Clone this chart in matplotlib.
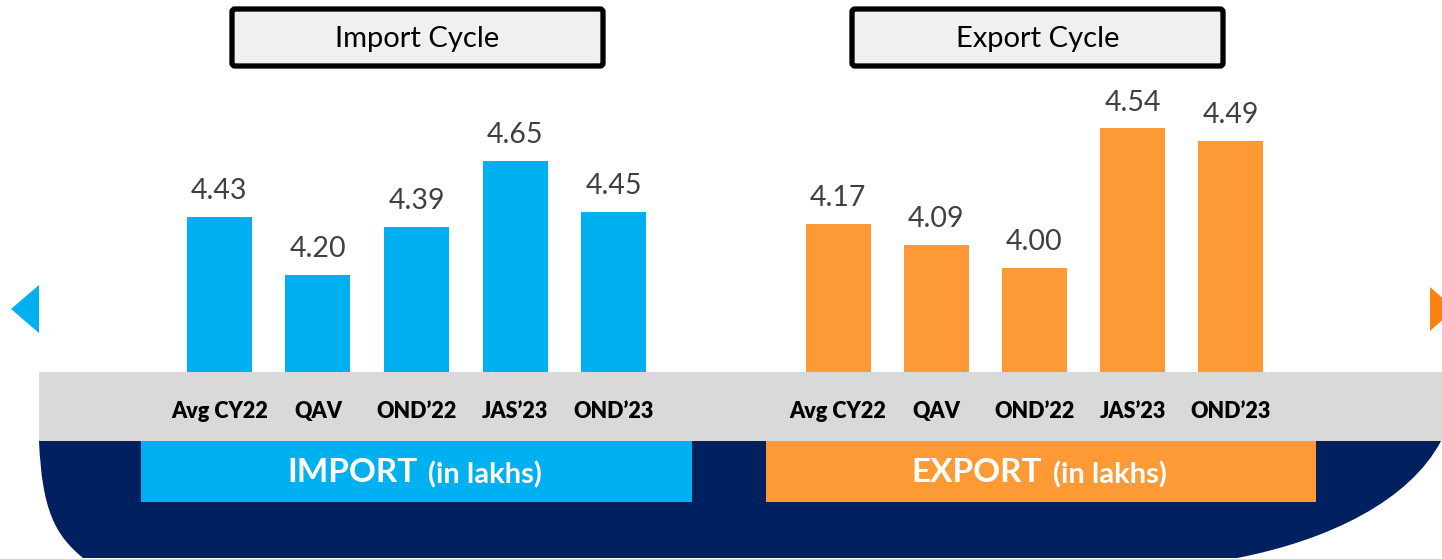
import matplotlib.pyplot as plt
from matplotlib.patches import Rectangle, FancyBboxPatch, PathPatch, Polygon
from matplotlib.path import Path

plt.rcParams['font.family'] = ['Lato', 'DejaVu Sans']

categories = ['Avg CY22', 'QAV', 'OND\u201922', 'JAS\u201923', 'OND\u201923']
import_vals = [4.43, 4.20, 4.39, 4.65, 4.45]
export_vals = [4.17, 4.09, 4.00, 4.54, 4.49]

W, H = 1442, 559
CYAN = '#00b0f0'
ORANGE = '#fd9a35'
NAVY = '#002060'
GREY = '#d9d9d9'

fig = plt.figure(figsize=(W / 100, H / 100), dpi=100)

# background layer in pixel coordinates
bg = fig.add_axes([0, 0, 1, 1])
bg.set_xlim(0, W)
bg.set_ylim(H, 0)
bg.axis('off')

# navy hull shape under the grey band
verts = [(39, 441), (1441, 441),
         (1410, 500), (1330, 540), (1237, 558),
         (83, 558),
         (55, 535), (42, 510), (39, 441),
         (39, 441)]
codes = [Path.MOVETO, Path.LINETO,
         Path.CURVE4, Path.CURVE4, Path.CURVE4,
         Path.LINETO,
         Path.CURVE4, Path.CURVE4, Path.CURVE4,
         Path.CLOSEPOLY]
bg.add_patch(PathPatch(Path(verts, codes), facecolor=NAVY, edgecolor='none'))
bg.add_patch(Rectangle((39, 372), W - 39, 69, facecolor=GREY, edgecolor='none'))

# series banners
bg.add_patch(Rectangle((141, 441), 551, 61, facecolor=CYAN, edgecolor='none'))
bg.add_patch(Rectangle((766, 441), 550, 61, facecolor=ORANGE, edgecolor='none'))
for cx, main, col in [(416, 'IMPORT', CYAN), (1041, 'EXPORT', ORANGE)]:
    bg.text(cx - 64, 473, main, color='white', fontsize=24, fontweight='bold',
            ha='center', va='center')
    bg.text(cx + 69, 475, '(in lakhs)', color='white', fontsize=21,
            fontweight='bold', ha='center', va='center')

# title boxes
for x0, x1, title in [(232, 603, 'Import Cycle'), (852, 1223, 'Export Cycle')]:
    bg.add_patch(FancyBboxPatch((x0, 9), x1 - x0, 57,
                                boxstyle='round,pad=0,rounding_size=3',
                                facecolor='#f0f0f0', edgecolor='black', linewidth=3.8))
    bg.text((x0 + x1) / 2, 39, title, fontsize=21, ha='center', va='center')

# navigation arrows
bg.add_patch(Polygon([(11, 309), (39, 285), (39, 333)], closed=True,
                     facecolor=CYAN, edgecolor='none'))
bg.add_patch(Polygon([(1430, 287), (1455, 309), (1430, 331)], closed=True,
                     facecolor='#f7820f', edgecolor='none', clip_on=False))


def bar_panel(left, width, vals, color, ylim):
    ax = fig.add_axes([left / W, (H - 372) / H, width / W, 372 / H])
    ax.patch.set_alpha(0)
    bars = ax.bar(range(len(vals)), vals, width=0.66, color=color)
    ax.bar_label(bars, labels=[f'{v:.2f}' for v in vals], padding=9,
                 fontsize=20.5, color='#404040')
    ax.set_xlim(-0.5, len(vals) - 0.5)
    ax.set_ylim(*ylim)
    ax.set_xticks(range(len(vals)))
    ax.set_xticklabels(categories, fontsize=15.5, fontweight='heavy')
    ax.tick_params(axis='x', length=0, pad=21)
    ax.set_yticks([])
    for s in ax.spines.values():
        s.set_visible(False)
    return ax


bar_panel(170, 493, import_vals, CYAN, (3.816, 3.816 + 372 / 253))
bar_panel(789, 491, export_vals, ORANGE, (3.598, 3.598 + 372 / 259))

fig.savefig('out.png', dpi=100)
